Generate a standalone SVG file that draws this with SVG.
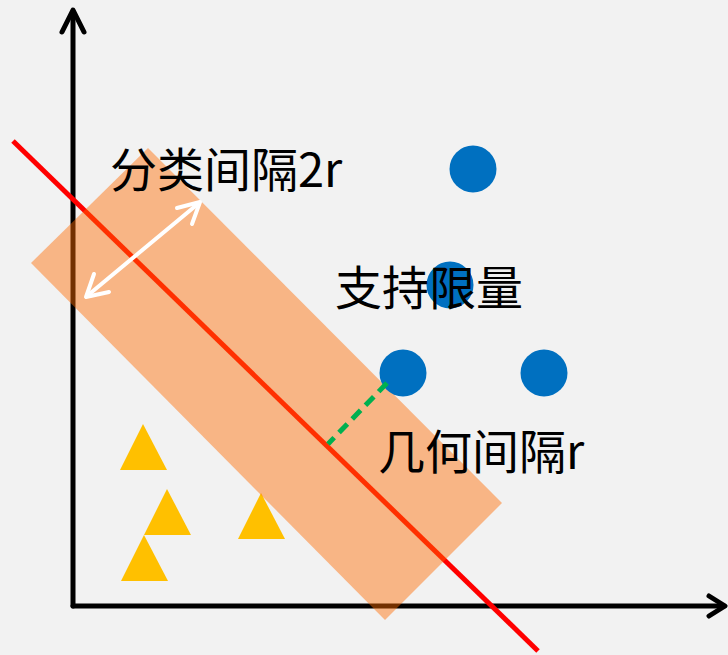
<svg xmlns="http://www.w3.org/2000/svg" width="728" height="655" viewBox="0 0 728 655">
<style>
.axis{stroke:#000;stroke-width:5;fill:none;stroke-linecap:round;stroke-linejoin:round}
.tri{fill:#FFC000}
.dot{fill:#0070C0}
.lbl{font-family:"Noto Sans CJK SC","Noto Sans",sans-serif;font-size:47px;fill:#000}
</style>
<rect width="728" height="655" fill="#F2F2F2"/>
<g id="connectors">
<g id="y-axis"><line class="axis" x1="73" y1="606" x2="73" y2="12"/><polyline class="axis" points="62,32 73,10 84,32"/></g>
<g id="x-axis"><line class="axis" x1="73" y1="606" x2="724" y2="606"/><polyline class="axis" points="709,596 725,606 709,616"/></g>
<line id="hyperplane" x1="13" y1="141" x2="538" y2="651" stroke="#FF0000" stroke-width="5"/>
</g>
<g id="triangles">
<polygon class="tri" points="143,424 167,470 120,470"/>
<polygon class="tri" points="167,489 191,535 144,535"/>
<polygon class="tri" points="144,535 168,581 121,581"/>
<polygon class="tri" points="261,493 285,539 238,539"/>
</g>
<polygon id="margin" points="31,263 148,148 502,503 385,620" fill="#FF6A00" fill-opacity="0.45"/>
<g id="circles">
<circle class="dot" cx="473" cy="169" r="23.5"/>
<circle class="dot" cx="450" cy="285" r="23.5"/>
<circle class="dot" cx="403" cy="373" r="23.5"/>
<circle class="dot" cx="544" cy="373" r="23.5"/>
</g>
<line id="geo-margin" x1="387" y1="383" x2="328" y2="444" stroke="#00B050" stroke-width="5" stroke-dasharray="12,7"/>
<g id="width-arrow" stroke="#FFF" stroke-width="4" fill="none" stroke-linecap="round" stroke-linejoin="round">
<line x1="87" y1="296" x2="199" y2="203"/>
<polyline points="177,208 200,202 192,224"/>
<polyline points="94,274 86,297 109,292"/>
</g>
<g id="labels">
<text class="lbl" x="110" y="187">分类间隔2r</text>
<text class="lbl" x="335" y="305">支持限量</text>
<text class="lbl" x="378" y="469">几何间隔r</text>
</g>
</svg>
